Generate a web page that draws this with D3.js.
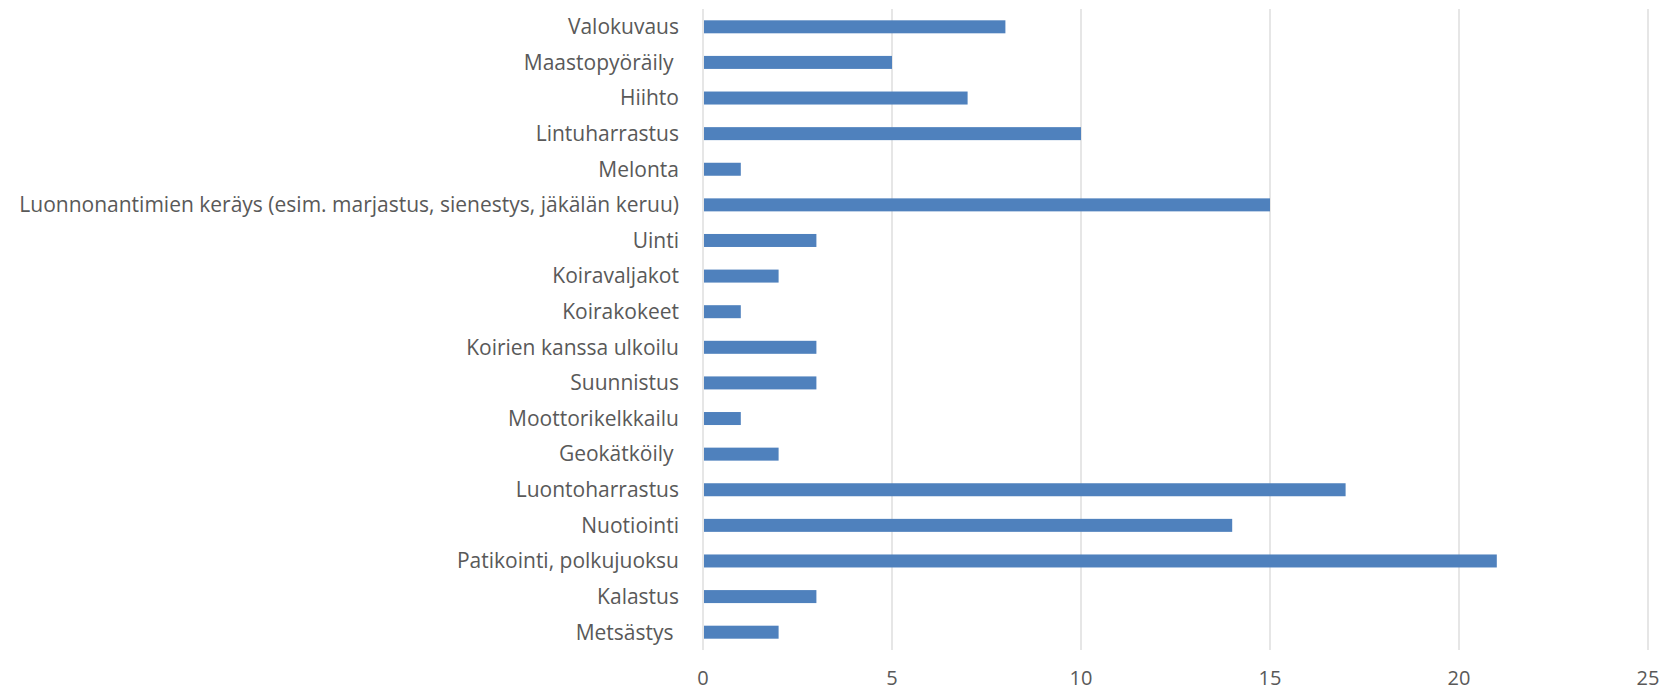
<html lang="fi">
<head>
    <meta charset="UTF-8">
    <script src="https://cdn.jsdelivr.net/npm/d3@7"></script>
    <title>Harrastukset</title>
    <style>
        body { margin: 0; background: #fff; }
        text { font-family: "Open Sans", sans-serif; fill: #595959; }
    </style>
</head>
<body>
    <script type="text/javascript">

        // data, top to bottom
        var categories = [
            "Valokuvaus", "Maastopyöräily ", "Hiihto", "Lintuharrastus", "Melonta",
            "Luonnonantimien keräys (esim. marjastus, sienestys, jäkälän keruu)",
            "Uinti", "Koiravaljakot", "Koirakokeet", "Koirien kanssa ulkoilu",
            "Suunnistus", "Moottorikelkkailu", "Geokätköily ", "Luontoharrastus",
            "Nuotiointi", "Patikointi, polkujuoksu", "Kalastus", "Metsästys "
        ];
        var values = [8, 5, 7, 10, 1, 15, 3, 2, 1, 3, 3, 1, 2, 17, 14, 21, 3, 2];
        var xTicks = [0, 5, 10, 15, 20, 25];

        var w = 1663;
        var h = 690;
        var plotLeft = 703, plotRight = 1648, plotTop = 9, plotBottom = 650;

        var svg = d3.select("body").append("svg")
            .attr("width", w)
            .attr("height", h);

        var xScale = d3.scaleLinear().domain([0, 25]).range([plotLeft, plotRight]);
        var yScale = d3.scaleBand().domain(categories).range([plotTop, plotBottom])
            .paddingInner(0.635).paddingOuter(0.3175);

        // gridlines
        svg.selectAll("line.grid")
            .data(xTicks)
            .enter()
            .append("line")
            .attr("class", "grid")
            .attr("x1", function (d) { return xScale(d); })
            .attr("x2", function (d) { return xScale(d); })
            .attr("y1", plotTop)
            .attr("y2", plotBottom)
            .attr("stroke", "#d9d9d9")
            .attr("stroke-width", 1.3);

        // bars
        svg.selectAll("rect")
            .data(values)
            .enter()
            .append("rect")
            .attr("x", xScale(0) + 1)
            .attr("y", function (d, i) { return yScale(categories[i]); })
            .attr("width", function (d) { return xScale(d) - xScale(0) - 1; })
            .attr("height", yScale.bandwidth())
            .attr("fill", "#4f81bd");

        // category labels
        svg.selectAll("text.cat")
            .data(categories)
            .enter()
            .append("text")
            .attr("class", "cat")
            .attr("x", plotLeft - 24)
            .attr("y", function (d) { return yScale(d) + yScale.bandwidth() / 2; })
            .attr("dy", "0.35em")
            .attr("text-anchor", "end")
            .attr("font-size", "21px")
            .style("white-space", "pre")
            .text(function (d) { return d; });

        // x tick labels
        svg.selectAll("text.tick")
            .data(xTicks)
            .enter()
            .append("text")
            .attr("class", "tick")
            .attr("x", function (d) { return xScale(d); })
            .attr("y", 678)
            .attr("dy", "0.35em")
            .attr("text-anchor", "middle")
            .attr("font-size", "20px")
            .text(function (d) { return d; });
    </script>
</body>
</html>
